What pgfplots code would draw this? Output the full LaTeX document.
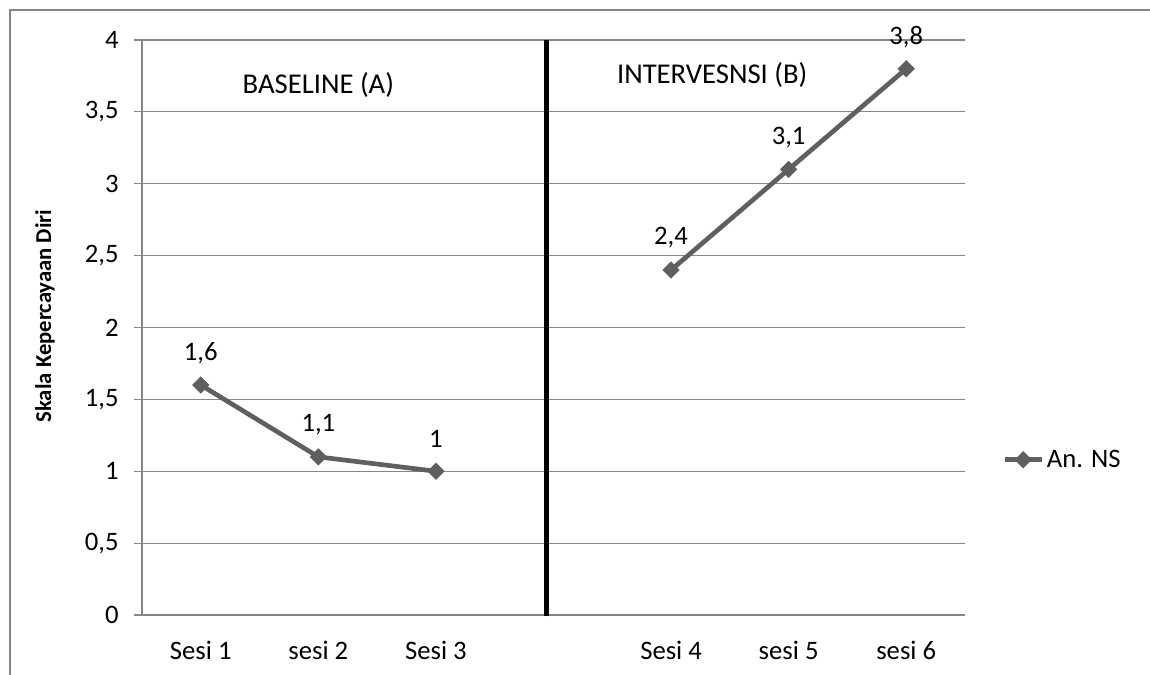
\documentclass[border=0pt]{standalone}
\usepackage{pgfplots}
\pgfplotsset{compat=1.18}
\usepackage{pgfplotstable}
\usepackage{fontspec}
\setmainfont{Carlito}
\definecolor{ser}{RGB}{95,95,95}
\definecolor{grd}{RGB}{134,134,134}
\pgfplotstableread{
x y lab
0 1.6 {1,6}
1 1.1 {1,1}
2 1.0 {1}
}\baseline
\pgfplotstableread{
x y lab
4 2.4 {2,4}
5 3.1 {3,1}
6 3.8 {3,8}
}\interv
\begin{document}
\begin{tikzpicture}
\begin{axis}[
  at={(0,0)}, anchor=south west,
  scale only axis, width=617.25pt, height=431.25pt,
  xmin=-0.5, xmax=6.5, ymin=0, ymax=4,
  axis x line*=bottom, axis y line*=left,
  axis line style={grd, line width=0.9pt, -},
  xtick={0,1,2,4,5,6},
  xticklabels={Sesi 1, sesi 2, Sesi 3, Sesi 4, sesi 5, sesi 6},
  x tick style={draw=none},
  xticklabel style={yshift=-10pt},
  ytick={0,0.5,1,1.5,2,2.5,3,3.5,4},
  yticklabels={0,{0,5},1,{1,5},2,{2,5},3,{3,5},4},
  yticklabel style={xshift=-8pt},
  y tick style={grd, line width=0.9pt},
  tick align=outside, major tick length=6pt,
  ymajorgrids, grid style={grd, line width=0.9pt},
  tick label style={font=\fontsize{20}{22}\selectfont},
  every axis y label/.style={at={(axis description cs:-0.118,0.52)}, anchor=center, rotate=90, font=\fontsize{17}{19}\selectfont\bfseries},
  ylabel={Skala Kepercayaan Diri},
  legend style={at={(1.04,0.27)}, anchor=west, draw=none, fill=none, font=\fontsize{20}{22}\selectfont},
  legend image code/.code={\draw[#1, mark repeat=2, mark phase=2] plot coordinates {(0pt,0pt) (14pt,0pt) (28pt,0pt)};},
  clip=false,
]
\addplot[ser, line width=3.5pt, mark=square*, mark size=4.3pt, mark options={solid, rotate=45, line width=0.5pt, fill=ser},
  nodes near coords, point meta=explicit symbolic,
  every node near coord/.style={anchor=center, yshift=24pt, text=black, font=\fontsize{20}{22}\selectfont}]
  table[x=x, y=y, meta=lab] {\baseline};
\addlegendentry{An. NS}
\addplot[ser, line width=3.5pt, mark=square*, mark size=4.3pt, mark options={solid, rotate=45, line width=0.5pt, fill=ser},
  nodes near coords, point meta=explicit symbolic, forget plot,
  every node near coord/.style={anchor=center, yshift=24pt, text=black, font=\fontsize{20}{22}\selectfont}]
  table[x=x, y=y, meta=lab] {\interv};
\addplot[black, line width=3.8pt, forget plot] coordinates {(2.94,-0.01) (2.94,4)};
\node[font=\fontsize{21.5}{24}\selectfont] at (axis cs:1.0,3.69) {BASELINE (A)};
\node[font=\fontsize{21.5}{24}\selectfont] at (axis cs:4.35,3.757) {INTERVESNSI (B)};
\end{axis}
\draw[grd, line width=1pt] (-99pt,-60pt) -- (-99pt,453.75pt) -- (800pt,453.75pt);
\pgfresetboundingbox
\path (-106.5pt,-45pt) rectangle (756pt,461.25pt);
\end{tikzpicture}
\end{document}
